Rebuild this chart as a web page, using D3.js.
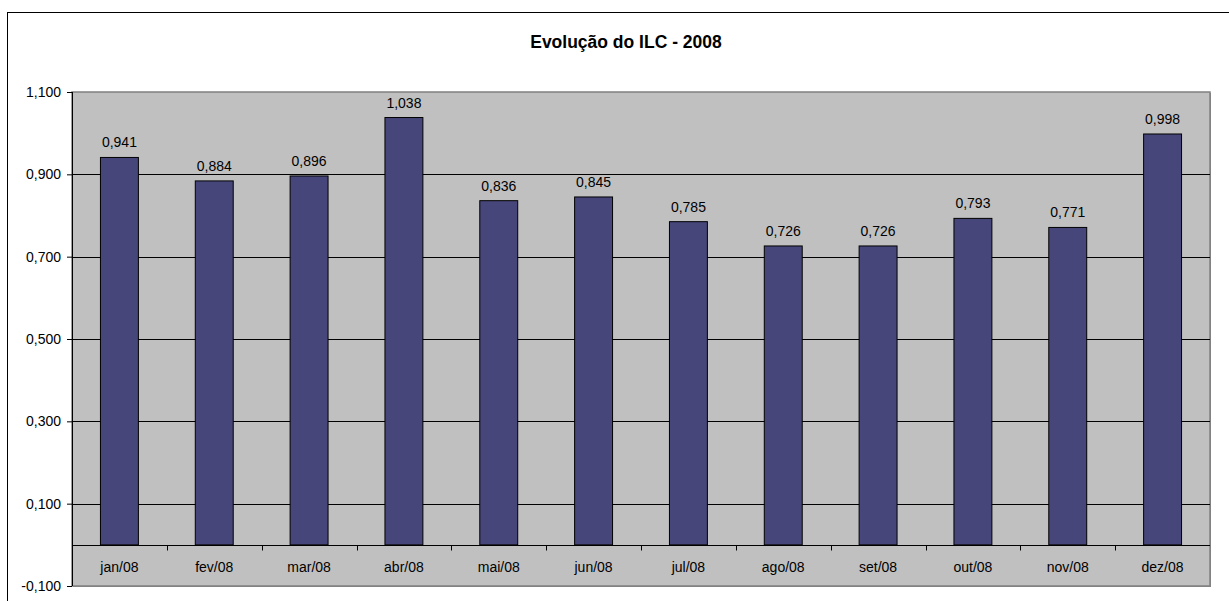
<!DOCTYPE html>
<html>
<head>
<meta charset="utf-8">
<script src="https://cdn.jsdelivr.net/npm/d3@7"></script>
<style>
  body { margin: 0; background: #fff; }
  text { font-family: "Liberation Sans", Arial, sans-serif; }
</style>
</head>
<body>
<div id="chart"></div>
<script>
// data
const months = ["jan/08", "fev/08", "mar/08", "abr/08", "mai/08", "jun/08",
                "jul/08", "ago/08", "set/08", "out/08", "nov/08", "dez/08"];
const ilc = [0.941, 0.884, 0.896, 1.038, 0.836, 0.845,
             0.785, 0.726, 0.726, 0.793, 0.771, 0.998];
const yTicks = [-0.1, 0.1, 0.3, 0.5, 0.7, 0.9, 1.1];

const width = 1229, height = 601;
const margin = {top: 92, left: 72, right: 19, bottom: 15};

const svg = d3.select("#chart")
    .append("svg")
    .attr("width", width)
    .attr("height", height);

// outer chart frame
svg.append("rect")
    .attr("x", 7.5).attr("y", 12.5)
    .attr("width", 1240).attr("height", 620)
    .attr("fill", "#fff")
    .attr("stroke", "#000")
    .attr("stroke-width", 1);

const fmt = function(v) { return d3.format(".3f")(v).replace(".", ",").replace("\u2212", "-"); };

/*
SCALES
*/
const xScale = d3.scaleBand()
    .domain(months)
    .range([margin.left, width - margin.right])
    .paddingInner(0.6)
    .paddingOuter(0.3);

const xCat = d3.scaleBand()
    .domain(months)
    .range([margin.left, width - margin.right]);

const yScale = d3.scaleLinear()
    .domain([-0.1, 1.1])
    .range([height - margin.bottom, margin.top]);

/*
PLOT AREA
*/
// shadow
svg.append("rect")
    .attr("x", margin.left + 1).attr("y", margin.top + 1)
    .attr("width", width - margin.right - margin.left)
    .attr("height", height - margin.bottom - margin.top)
    .attr("fill", "#8a8a8a");

svg.append("rect")
    .attr("x", margin.left).attr("y", margin.top)
    .attr("width", width - margin.right - margin.left)
    .attr("height", height - margin.bottom - margin.top)
    .attr("fill", "#c0c0c0")
    .attr("stroke", "#808080")
    .attr("stroke-width", 1.5);

// gridlines
svg.append("g")
    .selectAll("line")
    .data(yTicks.slice(1, -1))
    .enter()
    .append("line")
        .attr("x1", margin.left)
        .attr("x2", width - margin.right)
        .attr("y1", function(d) { return Math.round(yScale(d)) + 0.5; })
        .attr("y2", function(d) { return Math.round(yScale(d)) + 0.5; })
        .attr("stroke", "#000");

/*
BARS
*/
svg.append("g")
    .selectAll("rect")
    .data(ilc)
    .enter()
    .append("rect")
        .attr("x", function(d, i) { return xScale(months[i]); })
        .attr("y", function(d) { return yScale(d); })
        .attr("width", xScale.bandwidth())
        .attr("height", function(d) { return yScale(0) - yScale(d); })
        .attr("fill", "#46467a")
        .attr("stroke", "#000")
        .attr("stroke-width", 1);

// value labels
svg.append("g")
    .selectAll("text")
    .data(ilc)
    .enter()
    .append("text")
        .attr("x", function(d, i) { return xScale(months[i]) + xScale.bandwidth() / 2; })
        .attr("y", function(d) { return yScale(d) - 10; })
        .attr("text-anchor", "middle")
        .attr("font-size", "14px")
        .attr("fill", "#000")
        .text(fmt);

/*
AXES
*/
const yAxis = svg.append("g")
    .attr("transform", `translate(${margin.left},0)`)
    .call(d3.axisLeft(yScale).tickValues(yTicks).tickSize(5).tickFormat(fmt));
yAxis.select(".domain").attr("stroke", "#000").attr("d", `M0.5,${margin.top}V${height - margin.bottom}`);
yAxis.selectAll("text")
    .attr("font-size", "14px")
    .attr("font-family", "Liberation Sans, Arial, sans-serif")
    .attr("fill", "#000")
    .attr("x", -11);

// category axis crossing at zero
const xAxis = svg.append("g")
    .attr("transform", `translate(0,${Math.round(yScale(0)) + 0.5})`);
xAxis.append("line")
    .attr("x1", margin.left).attr("x2", width - margin.right)
    .attr("stroke", "#000");
xAxis.selectAll(".tk")
    .data(months.slice(1))
    .enter()
    .append("line")
        .attr("class", "tk")
        .attr("x1", function(d) { return Math.round(xCat(d)) + 0.5; })
        .attr("x2", function(d) { return Math.round(xCat(d)) + 0.5; })
        .attr("y1", 0).attr("y2", 5)
        .attr("stroke", "#000");
xAxis.selectAll(".lbl")
    .data(months)
    .enter()
    .append("text")
        .attr("class", "lbl")
        .attr("x", function(d) { return xCat(d) + xCat.bandwidth() / 2; })
        .attr("y", 26)
        .attr("text-anchor", "middle")
        .attr("font-size", "14px")
        .text(function(d) { return d; });

/*
TITLE
*/
svg.append("text")
    .attr("x", 626)
    .attr("y", 48)
    .attr("text-anchor", "middle")
    .attr("font-size", "17.5px")
    .attr("font-weight", "bold")
    .text("Evolução do ILC - 2008");
</script>
</body>
</html>
